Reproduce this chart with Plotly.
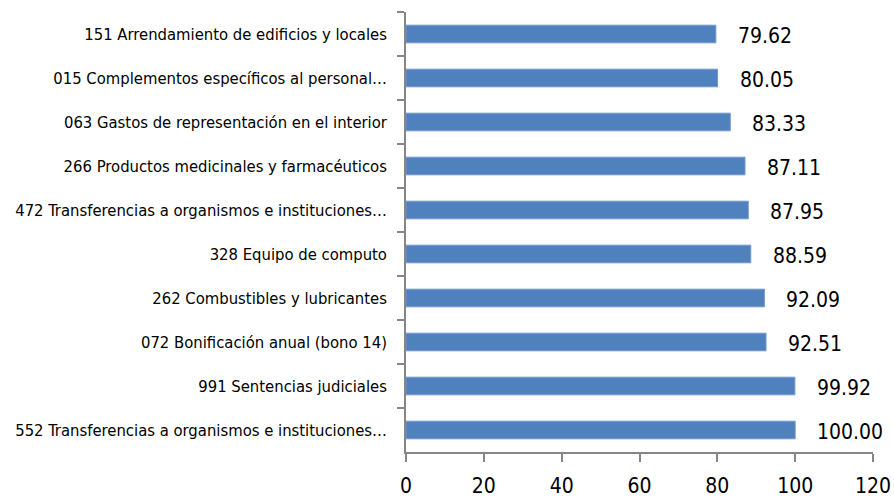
import plotly.graph_objects as go

categories = [
    "151 Arrendamiento de edificios y locales",
    "015 Complementos específicos al personal…",
    "063 Gastos de representación en el interior",
    "266 Productos medicinales y farmacéuticos",
    "472 Transferencias a organismos e instituciones…",
    "328 Equipo de computo",
    "262 Combustibles y lubricantes",
    "072 Bonificación anual (bono 14)",
    "991 Sentencias judiciales",
    "552 Transferencias a organismos e instituciones…",
]
values = [79.62, 80.05, 83.33, 87.11, 87.95, 88.59, 92.09, 92.51, 99.92, 100.00]
x_ticks = [0, 20, 40, 60, 80, 100, 120]

FONT = "DejaVu Sans Condensed, Liberation Sans Narrow, Arial Narrow, sans-serif"

fig = go.Figure()
fig.add_trace(go.Bar(
    y=categories,
    x=values,
    orientation="h",
    width=0.4,
    marker=dict(color="#4F81BD", line=dict(color="#7098CC", width=1)),
    hoverinfo="x+y",
))

for c, v in zip(categories, values):
    fig.add_annotation(
        x=v, y=c, text=f"{v:.2f}", showarrow=False,
        xanchor="left", yanchor="middle", xshift=20, yshift=-2,
        font=dict(family=FONT, size=21, color="#000000"),
    )

fig.update_layout(
    width=894, height=497,
    margin=dict(l=406, r=21, t=12, b=45, autoexpand=False),
    plot_bgcolor="white", paper_bgcolor="white",
    showlegend=False,
    xaxis=dict(
        range=[0, 120], tickvals=x_ticks, ticktext=[str(t) for t in x_ticks],
        showgrid=False, zeroline=False, automargin=False,
        showline=True, linecolor="#868686", linewidth=1.5,
        ticks="outside", ticklen=8, tickcolor="#868686", tickwidth=1.5,
        tickfont=dict(family=FONT, size=21, color="#000000"),
        ticklabelstandoff=6,
        fixedrange=True,
    ),
    yaxis=dict(
        autorange="reversed", type="category", automargin=False,
        showgrid=False, zeroline=False,
        showline=True, linecolor="#868686", linewidth=1.5,
        ticks="outside", ticklen=7, tickcolor="#868686", tickwidth=1.5,
        tickson="boundaries",
        tickfont=dict(family=FONT, size=16.5, color="#000000"),
        ticklabelstandoff=14,
        fixedrange=True,
    ),
)

fig.write_html(
    "out.html",
    config={"displayModeBar": False},
    post_script="document.body.style.margin='0';",
)
